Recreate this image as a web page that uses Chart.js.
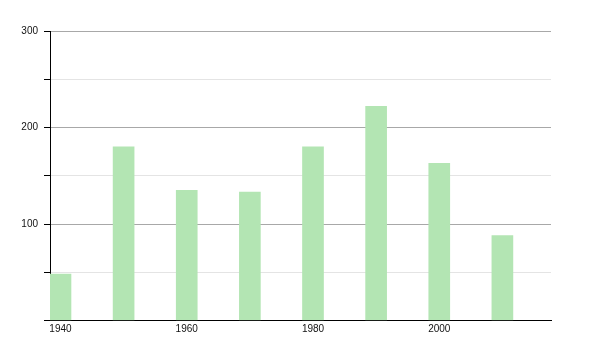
<!DOCTYPE html>
<html>
<head>
<meta charset="utf-8">
<script src="https://cdn.jsdelivr.net/npm/chart.js@4"></script>
<style>
  html, body { margin: 0; padding: 0; background: #fff; }
  #wrap { width: 600px; height: 350px; }
</style>
</head>
<body>
<div id="wrap"><canvas id="chart"></canvas></div>
<script>
var years = [1940, 1950, 1960, 1970, 1980, 1990, 2000, 2010]
var values = [48, 180, 135, 133, 180, 222, 163, 88]
var xTicks = [1940, 1960, 1980, 2000]
var yLabels = [100, 200, 300]

var points = years.map(function (y, i) { return { x: y, y: values[i] } })

var ctx = document.getElementById('chart')

var grafico = new Chart(ctx, {
    type: 'bar',
    data: {
        datasets: [{
            data: points,
            backgroundColor: 'rgb(179,229,179)',
            borderWidth: 0,
            barThickness: 21
        }]
    },
    options: {
        responsive: true,
        maintainAspectRatio: false,
        animation: false,
        layout: { padding: { top: 31, right: 49, left: 0, bottom: 0 } },
        plugins: { legend: { display: false }, tooltip: { enabled: false } },
        scales: {
            x: {
                type: 'linear',
                offset: false,
                min: 1938.34,
                max: 2017.7,
                grid: { display: false },
                border: { display: true, color: '#000', width: 1 },
                afterBuildTicks: function (scale) {
                    scale.ticks = xTicks.map(function (v) { return { value: v } })
                },
                afterFit: function (scale) { scale.height = 29.5 },
                ticks: {
                    padding: -5,
                    autoSkip: false,
                    maxRotation: 0,
                    color: '#111',
                    font: { family: 'Liberation Sans', size: 10 },
                    callback: function (v) { return String(v) }
                }
            },
            y: {
                min: 0,
                max: 300,
                grid: {
                    color: function (c) {
                        return c.tick && c.tick.value % 100 === 0 ? '#a8a8a8' : '#e4e4e4'
                    },
                    tickColor: '#000',
                    tickLength: 6,
                    lineWidth: 1
                },
                border: { display: true, color: '#000', width: 1 },
                afterFit: function (scale) { scale.width = 50 },
                ticks: {
                    stepSize: 50,
                    padding: 6,
                    color: '#111',
                    font: { family: 'Liberation Sans', size: 10 },
                    callback: function (v) { return yLabels.indexOf(v) >= 0 ? String(v) : '' }
                }
            }
        }
    }
})
</script>
</body>
</html>
